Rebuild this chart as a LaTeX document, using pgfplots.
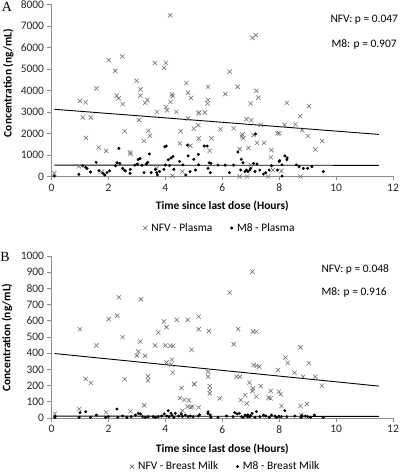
\documentclass[border=0pt]{standalone}
\usepackage{fontspec}
\setmainfont{Carlito}
\newfontfamily\seriffont{Liberation Serif}
\usepackage{pgfplots}
\pgfplotsset{compat=1.18}
\pgfplotsset{
  excel/.style={
    scale only axis, width=341.5bp,
    xmin=0, xmax=12, xtick={0,2,4,6,8,10,12},
    axis lines*=left,
    axis line style={draw=black!45, line width=0.7bp},
    tick style={draw=black!45, line width=0.7bp},
    tick align=outside, major tick length=4bp,
    /pgf/number format/assume math mode=true,
    /pgf/number format/1000 sep={},
    tick label style={font=\fontsize{11.5}{13}\selectfont, text=black!85},
    label style={font=\bfseries\fontsize{11.5}{13}\selectfont},
    clip=false,
    legend style={draw=none, fill=none, font=\fontsize{11.5}{13}\selectfont, legend columns=2,
      /tikz/every even column/.append style={column sep=16bp}, anchor=center},
    legend cell align=left,
  },
  nfv/.style={only marks, mark=x, mark size=3bp, draw=black!55, mark options={line width=0.6bp}},
  m8/.style={only marks, mark=*, mark size=1.3bp, black},
  trend/.style={black, line width=0.9bp, no marks, forget plot},
}
\begin{document}
\begin{tikzpicture}
\useasboundingbox (0bp,0bp) rectangle (400bp,474bp);
% ---------------- Panel A ----------------
\begin{axis}[excel, at={(51.5bp,297.5bp)}, anchor=south west,
  height=171.8bp, ymin=0, ymax=8000, ytick={0,1000,...,8000},
  xlabel={Time since last dose (Hours)}, ylabel={Concentration (ng/mL)},
  xlabel style={at={(axis description cs:0.5,-0.175)}, anchor=center},
  ylabel style={at={(axis description cs:-0.126,0.544)}, anchor=center},
  legend style={at={(axis description cs:0.493,-0.30)}}]
\addplot[nfv] coordinates {
(0.1,150) (0.96,480) (1.0,3520) (1.2,3450) (1.1,2750) (1.38,2750) (1.21,1800) (1.58,4100)
(1.66,1350) (1.76,220) (1.92,1190) (2.01,5420) (2.24,4920) (2.29,3760) (2.36,3640) (2.49,5590)
(2.5,3370) (2.57,2110) (2.76,1120) (2.78,1050) (2.99,4460) (3.13,4060) (3.12,3770) (3.07,2630)
(3.25,1650) (3.29,3430) (3.37,3560) (3.4,2130) (3.46,1900) (3.63,5290) (3.71,3010) (3.69,380)
(3.96,5060) (4.02,5290) (4.02,3230) (4.06,3080) (4.17,7510) (4.18,3470) (4.23,3820) (4.26,3740)
(4.25,30) (4.39,3010) (4.54,2110) (4.51,1540) (4.6,240) (4.74,4360) (4.8,3900) (4.9,3660)
(4.8,2700) (4.88,1430) (5.0,2230) (5.16,2940) (5.17,1770) (5.16,2390) (5.5,4180) (5.5,3560)
(5.48,3400) (5.19,2980) (5.39,2980) (5.62,1780) (5.56,1200) (5.94,2200) (6.11,3840) (6.26,4880)
(6.54,4180) (6.4,2240) (6.71,1960) (6.69,1860) (6.74,1780) (6.61,1280) (6.92,1330) (7.0,3400)
(6.85,2670) (7.02,2620) (7.1,1930) (7.22,1570) (7.47,1570) (7.06,6460) (7.18,6580) (7.2,3990)
(7.27,3670) (7.35,2400) (7.73,1230) (7.71,890) (7.61,0) (7.94,2010) (8.0,2010) (8.27,3430)
(8.19,2400) (8.08,260) (8.57,2430) (8.74,2810) (8.81,2150) (9.05,3280) (9.01,1880) (9.27,1260)
(9.51,1650) (8.75,0) (6.61,0) (6.87,0) (7.0,530) (7.78,300)
};
\addlegendentry{\hspace{2bp}NFV - Plasma}
\addplot[m8] coordinates {
(0.1,20) (0.96,100) (1.1,500) (1.2,430) (1.25,370) (1.37,210) (1.57,660) (1.67,270)
(1.81,150) (1.87,70) (1.95,180) (2.04,260) (2.25,500) (2.3,640) (2.4,610) (2.5,380)
(2.56,290) (2.6,260) (2.76,150) (2.77,330) (2.93,530) (3.02,580) (3.05,790) (3.11,840)
(3.18,520) (3.25,180) (3.33,580) (3.38,660) (3.44,1050) (3.5,180) (3.65,330) (3.7,180)
(3.72,70) (3.8,230) (3.95,330) (4.0,530) (4.1,780) (4.15,510) (4.2,860) (4.27,930)
(4.3,330) (4.5,700) (4.62,540) (4.72,70) (4.8,960) (4.87,230) (5.0,800) (5.06,300)
(5.16,1030) (5.17,540) (5.5,380) (5.58,180) (5.6,610) (5.85,530) (6.1,530) (6.25,180)
(6.4,530) (6.55,1140) (6.65,300) (6.67,800) (6.73,640) (6.8,230) (6.85,300) (6.9,230)
(6.97,300) (7.0,380) (7.1,610) (7.15,230) (7.22,580) (7.32,300) (7.45,110) (7.53,180)
(7.65,300) (7.73,500) (7.94,300) (8.0,700) (8.1,540) (8.1,20) (8.2,960) (8.27,780)
(8.6,540) (8.7,460) (8.85,380) (9.0,380) (9.15,460) (9.55,230)
(2.37,1310) (4.03,1420) (3.98,1380) (4.78,1460) (5.37,1420) (5.47,1420) (7.17,1980)
(8.02,740) (8.28,870) (5.54,640)
};
\addlegendentry{\hspace{2bp}M8 - Plasma}
\addplot[trend] coordinates {(0.1,3130) (11.5,1960)};
\addplot[trend] coordinates {(0.1,530) (11.5,520)};
\end{axis}
% ---------------- Panel B ----------------
\begin{axis}[excel, at={(51.5bp,56bp)}, anchor=south west,
  height=162bp, ymin=0, ymax=1000, ytick={0,100,...,1000},
  xlabel={Time since last dose (Hours)}, ylabel={Concentration (ng/mL)},
  xlabel style={at={(axis description cs:0.5,-0.19)}, anchor=center},
  ylabel style={at={(axis description cs:-0.13,0.497)}, anchor=center},
  legend style={at={(axis description cs:0.51,-0.30)}}]
\addplot[nfv] coordinates {
(0.12,27) (0.97,55) (1.0,548) (1.2,242) (1.38,216) (1.58,448) (1.92,35) (2.01,610)
(2.31,632) (2.37,745) (2.5,499) (2.57,240) (2.78,41) (3.0,386) (3.05,411) (3.12,472)
(3.14,733) (3.29,384) (3.26,78) (3.39,257) (3.39,232) (3.64,448) (3.75,528) (3.95,596)
(4.0,448) (4.04,561) (4.04,343) (4.18,446) (4.21,329) (4.23,360) (4.27,446) (4.26,281)
(4.4,606) (4.51,123) (4.57,185) (4.6,45) (4.78,606) (4.83,109) (4.92,421) (4.89,66)
(5.02,211) (5.17,626) (5.17,548) (5.17,66) (7.06,903) (6.26,774) (5.53,537) (6.56,549)
(7.08,533) (7.2,533) (6.4,455) (8.75,436) (8.22,372) (8.3,341) (9.04,338) (7.1,327)
(7.2,322) (7.3,317) (7.96,296) (8.54,280) (8.84,255) (9.27,255) (9.5,200) (5.5,286)
(5.5,255) (6.5,255) (6.62,255) (5.01,208) (5.56,197) (5.56,173) (5.56,152) (5.91,121)
(6.96,218) (7.35,197) (7.7,167) (7.99,163) (8.05,147) (7.63,125) (7.7,121) (7.08,183)
(7.06,167) (7.2,132) (6.81,142) (6.86,90) (6.65,111) (8.08,74) (8.75,74) (8.97,86)
(4.78,70) (4.95,70) (4.67,112) (8.77,20)
};
\addlegendentry{\hspace{2bp}NFV - Breast Milk}
\addplot[m8] coordinates {
(0.12,4) (0.12,10) (0.97,4) (1.0,33) (1.2,39) (1.37,4) (1.58,18) (1.9,4) (2.0,8) (2.3,55)
(2.33,4) (2.5,12) (2.65,4) (2.8,8) (2.95,18) (3.05,29) (3.13,25) (3.2,8) (3.3,4) (3.4,8)
(3.57,8) (3.65,4) (3.75,8) (3.87,12) (3.96,25) (4.05,12) (4.1,45) (4.13,8) (4.23,18) (4.3,4)
(4.35,29) (4.47,12) (4.56,25) (4.7,18) (4.8,8) (4.88,12) (4.98,8) (5.16,12) (5.5,38) (5.5,28)
(5.58,18) (5.6,4) (5.85,4) (6.15,12) (6.38,8) (6.44,33) (6.52,25) (6.6,29) (6.68,8) (6.73,4)
(6.8,18) (6.85,12) (6.9,8) (6.97,8) (7.05,29) (7.15,4) (7.2,40) (7.32,8) (7.45,18) (7.53,12)
(7.65,4) (7.73,18) (7.85,12) (7.9,4) (8.08,8) (8.2,45) (8.27,8) (8.55,12) (8.77,4) (8.92,12)
(9.1,4) (9.24,18) (9.55,4) (4.2,30) (4.6,10) (5.2,20) (6.9,20) (7.0,15) (8.0,10) (8.8,15) (9.0,8)
};
\addlegendentry{\hspace{2bp}M8 - Breast Milk}
\addplot[trend] coordinates {(0.1,398) (11.5,197)};
\addplot[trend] coordinates {(0.1,12) (11.5,10)};
\end{axis}
% ---------------- Annotations ----------------
\node[font=\seriffont\fontsize{14}{16}\selectfont] at (7bp,467bp) {A};
\node[font=\seriffont\fontsize{14}{16}\selectfont] at (5bp,217bp) {B};
\node[anchor=west, font=\fontsize{11.5}{14}\selectfont] at (327bp,454bp) {NFV: p = 0.047};
\node[anchor=west, font=\fontsize{11.5}{14}\selectfont] at (328bp,429bp) {M8: p = 0.907};
\node[anchor=west, font=\fontsize{11.5}{14}\selectfont] at (318bp,204bp) {NFV: p = 0.048};
\node[anchor=west, font=\fontsize{11.5}{14}\selectfont] at (318bp,181bp) {M8: p = 0.916};
\end{tikzpicture}
\end{document}
